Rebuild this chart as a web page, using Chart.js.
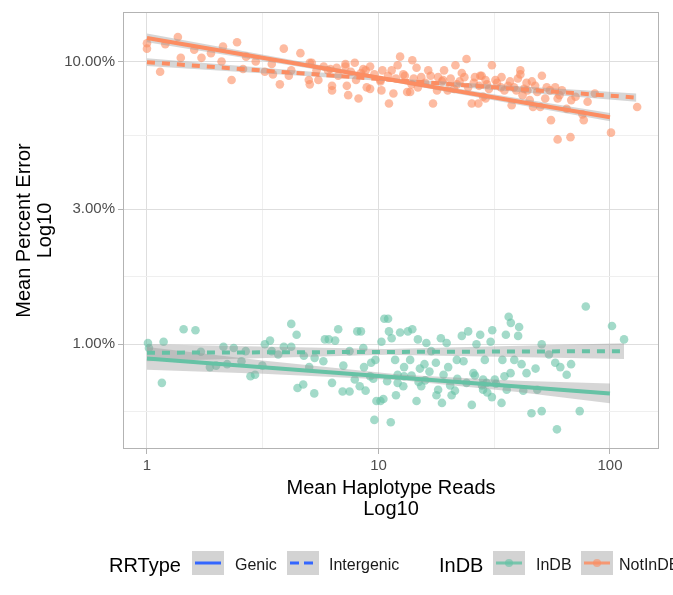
<!DOCTYPE html>
<html>
<head>
<meta charset="utf-8">
<script src="https://cdn.jsdelivr.net/npm/chart.js@4.4.1/dist/chart.umd.min.js"></script>
<style>
  body { margin: 0; background: #fff; overflow: hidden; }
  #wrap { position: relative; width: 673px; height: 595px; overflow: hidden; }
  .lg { position: absolute; top: 553px; height: 24px; line-height: 24px; white-space: nowrap;
        font-family: 'Liberation Sans', Arial, sans-serif; }
  .ttl { font-size: 20px; color: #000; }
  .lbl { font-size: 16px; color: #1a1a1a; }
  .key { position: absolute; top: 551px; width: 32px; height: 24px; background: #d3d3d3; }
</style>
</head>
<body>
<div id="wrap">
  <canvas id="chart" width="673" height="595"></canvas>

  <span class="lg ttl" style="left:109px">RRType</span>
  <svg class="key" style="left:192px" width="32" height="24">
    <line x1="3" y1="12" x2="29" y2="12" stroke="#3366FF" stroke-width="3"/>
  </svg>
  <span class="lg lbl" style="left:235px">Genic</span>
  <svg class="key" style="left:287px" width="32" height="24">
    <line x1="3" y1="12" x2="29" y2="12" stroke="#3366FF" stroke-width="3" stroke-dasharray="9,5"/>
  </svg>
  <span class="lg lbl" style="left:329px">Intergenic</span>

  <span class="lg ttl" style="left:439px">InDB</span>
  <svg class="key" style="left:493px" width="32" height="24">
    <line x1="3" y1="12" x2="29" y2="12" stroke="#66C2A5" stroke-width="3" stroke-opacity="0.85"/>
    <circle cx="16" cy="12" r="4" fill="#66C2A5" fill-opacity="0.6"/>
  </svg>
  <span class="lg lbl" style="left:536px">InDB</span>
  <svg class="key" style="left:581px" width="32" height="24">
    <line x1="3" y1="12" x2="29" y2="12" stroke="#FC8D62" stroke-width="3" stroke-opacity="0.85"/>
    <circle cx="16" cy="12" r="4" fill="#FC8D62" fill-opacity="0.6"/>
  </svg>
  <span class="lg lbl" style="left:619px">NotInDB</span>
</div>

<script>
// axis breaks (major labelled, minor grid only)
const readTicks = [1, 10, 100];
const readMinor = [3.162, 31.62];
const errorTicks = [1, 3, 10];
const errorMinor = [0.577, 1.732, 5.477];

// [mean haplotype reads, mean percent error]
const notInDbPoints = [
  [1, 11.6], [1, 11.1], [1.14, 9.2], [1.2, 11.5], [1.36, 12.2], [1.4, 10.3], [1.6, 11.0],
  [1.72, 10.3], [1.89, 10.7], [2.13, 11.3], [2.1, 10.0], [2.32, 8.6], [2.45, 11.7], [2.6, 9.4],
  [2.68, 10.4], [2.95, 10.0], [3.23, 9.2], [3.46, 9.8], [3.5, 9.0], [3.75, 8.3], [3.9, 11.1],
  [4.1, 8.9], [4.2, 9.3], [4.6, 10.7], [5.0, 8.6], [5.15, 9.9], [5.05, 9.9], [5.5, 8.6],
  [6.05, 9.3], [6.3, 8.2], [6.7, 8.9], [7.2, 9.8], [7.3, 8.2], [7.4, 7.6], [7.9, 9.9],
  [8.0, 8.6], [8.2, 7.4], [8.6, 9.4], [8.9, 8.1], [9.2, 9.6], [10.2, 8.5], [10.3, 7.9],
  [10.4, 9.3], [11.1, 7.1], [11.4, 9.3], [11.6, 7.7], [12.1, 9.7], [12.4, 10.4], [12.8, 9.0],
  [13.3, 7.8], [13.7, 7.8], [14.0, 10.1], [14.6, 9.5], [14.8, 8.1], [15.3, 8.8], [16.4, 9.3],
  [17.2, 7.1], [17.9, 7.9], [18.8, 8.5], [19.2, 9.3], [19.9, 7.9], [21.5, 9.7], [21.8, 8.3],
  [22.9, 9.1], [24.0, 10.2], [24.4, 8.1], [25.3, 7.1], [26.1, 8.8], [27.0, 7.1], [27.9, 8.9],
  [28.3, 7.5], [29.4, 8.3], [30.9, 9.7], [32, 8.6], [34, 8.8], [27.5, 8.9], [29, 7.4],
  [36.3, 8.2], [37.6, 7.0], [39.4, 7.9], [41, 9.3], [41.9, 7.6], [43.6, 8.4], [45, 7.3],
  [46.5, 6.9], [47.5, 8.2], [50, 6.9], [50.8, 8.9], [52.5, 7.4], [53.3, 8.1], [55.6, 6.2],
  [59.4, 7.4], [59.4, 5.3], [65, 6.8], [67.5, 5.4], [71, 7.5], [76, 6.5], [86, 7.7],
  [101, 5.6], [131, 6.9], [41, 9.0], [58, 8.1], [77, 6.2], [8.8, 9.3], [7.2, 9.6], [6.2, 9.4],
  [5.4, 9.3], [5.05, 8.3], [6.3, 7.9], [9.2, 8.0], [10.2, 8.6], [13.9, 8.3], [15.9, 8.4],
  [19.0, 8.6], [21.2, 8.0], [29, 8.6], [33.8, 8.1], [37, 8.5], [44, 7.9], [60.5, 7.6],
  [5.8, 9.6], [6.6, 9.5], [7.6, 9.2], [8.4, 9.1], [9.6, 9.0], [11.0, 8.9], [11.9, 8.7],
  [13.0, 8.9], [14.2, 8.7], [16.8, 8.9], [18.1, 8.8], [20.5, 8.7], [22.4, 8.5], [23.5, 8.8],
  [25.8, 8.4], [27.2, 8.2], [30.0, 8.0], [32.5, 8.4], [35.0, 7.9], [38.5, 8.1], [40.0, 8.7],
  [42.5, 8.0], [46, 8.5], [48.5, 7.8], [55, 7.9], [62, 7.9], [68, 7.3], [80, 7.2]
];

const inDbPoints = [
  [1.01, 1.01], [1.02, 0.97], [1.18, 1.02], [1.16, 0.73], [1.44, 1.13], [1.62, 1.12],
  [1.71, 0.94], [1.87, 0.83], [1.99, 0.84], [2.14, 0.98], [2.22, 0.85], [2.37, 0.97],
  [2.56, 0.87], [2.67, 0.945], [2.80, 0.77], [2.93, 0.78], [3.15, 0.84], [3.23, 1.0],
  [3.4, 1.03], [3.46, 0.945], [3.69, 0.92], [3.9, 0.98], [4.2, 1.18], [4.43, 1.08],
  [4.2, 0.98], [4.47, 0.70], [4.73, 0.72], [4.76, 0.91], [5.02, 0.83], [5.28, 0.67],
  [5.3, 0.895], [5.78, 0.87], [5.87, 1.04], [6.1, 1.04], [6.5, 1.03], [6.3, 0.73],
  [6.7, 1.13], [7.0, 0.68], [7.05, 0.84], [7.5, 0.68], [7.5, 0.945], [7.9, 0.75],
  [8.1, 1.11], [8.4, 1.11], [8.3, 0.71], [8.6, 0.97], [8.66, 0.83], [8.8, 0.685],
  [9.2, 0.77], [9.3, 0.86], [9.6, 0.54], [9.7, 0.88], [9.8, 0.63], [10.2, 0.63],
  [10.3, 1.02], [10.5, 0.64], [10.6, 1.23], [11.0, 1.23], [11.1, 1.11], [11.3, 0.53],
  [11.4, 1.05], [11.8, 0.88], [11.9, 0.66], [12.1, 0.78], [12.4, 1.10], [12.8, 0.71],
  [12.9, 0.83], [13.4, 1.11], [13.7, 0.88], [14.0, 1.13], [14.6, 0.63], [14.8, 1.04],
  [15.1, 0.82], [15.3, 0.71], [15.8, 0.85], [16.1, 1.01], [16.9, 0.945], [17.7, 0.86],
  [17.8, 0.66], [18.6, 1.05], [18.8, 0.62], [19.1, 0.78], [19.7, 1.01], [20.0, 0.83],
  [20.7, 0.66], [21.4, 0.685], [21.8, 0.88], [22.9, 1.07], [23.3, 0.87], [24.0, 0.73],
  [24.4, 1.11], [25.3, 0.61], [25.7, 0.79], [26.5, 1.0], [27.5, 1.08], [28.3, 0.69],
  [28.8, 0.88], [30.5, 1.02], [31, 1.12], [30.9, 0.65], [34, 0.62], [34.3, 0.88],
  [35.5, 1.08], [36.5, 1.25], [37.3, 1.19], [37.2, 0.79], [38.6, 0.88], [40.1, 1.07],
  [40.5, 1.15], [41.5, 0.85], [42.2, 0.685], [43.6, 0.79], [45.8, 0.57], [47.7, 0.82],
  [48.5, 0.69], [50.7, 0.58], [50.7, 1.0], [54.5, 0.92], [58.0, 0.86], [59, 0.50],
  [61, 0.83], [65.0, 0.78], [67.9, 0.85], [74, 0.58], [78.6, 1.36], [102, 1.16],
  [115, 1.04], [28.3, 0.75], [29.3, 0.73], [31.8, 0.75], [35, 0.77], [12.9, 0.77],
  [14.9, 0.735], [15.9, 0.745], [18.1, 0.69], [20.4, 0.715], [21.9, 0.755], [28.0, 0.715],
  [29.5, 0.675], [32.2, 0.725], [35.8, 0.69], [9.5, 0.755], [10.9, 0.74], [12.1, 0.73],
  [13.9, 0.775], [16.6, 0.80], [26.1, 0.775]
];

// linear fits on log-log axes, with their confidence bands
const genicNotInDbFit = [[1, 12.1], [100, 6.35]];
const genicNotInDbUpper = [[1, 12.55], [10, 8.91], [100, 6.57]];
const genicNotInDbLower = [[1, 11.7], [10, 8.63], [100, 6.14]];

const intergenicNotInDbFit = [[1, 9.94], [130, 7.45]];
const intergenicNotInDbUpper = [[1, 10.27], [11.4, 8.73], [130, 7.70]];
const intergenicNotInDbLower = [[1, 9.63], [11.4, 8.49], [130, 7.21]];

const genicInDbFit = [[1, 0.89], [100, 0.67]];
const genicInDbUpper = [[1, 0.977], [3.16, 0.875], [12.6, 0.78], [40, 0.743], [100, 0.726]];
const genicInDbLower = [[1, 0.813], [3.16, 0.787], [12.6, 0.745], [40, 0.678], [100, 0.618]];

const intergenicInDbFit = [[1, 0.933], [115, 0.945]];
const intergenicInDbUpper = [[1, 1.0], [10.7, 0.962], [115, 1.008]];
const intergenicInDbLower = [[1, 0.871], [10.7, 0.918], [115, 0.886]];

const ORANGE = '#FC8D62';
const GREEN = '#66C2A5';
const BAND = 'rgba(153,153,153,0.4)';
const MAJOR_GRID = '#dedede';
const MINOR_GRID = '#efefef';

Chart.defaults.font.family = "'Liberation Sans', Arial, sans-serif";

const toXY = pts => pts.map(([x, y]) => ({ x, y }));

function pointSet(points, color) {
  return {
    data: toXY(points),
    backgroundColor: color,
    borderWidth: 0,
    pointRadius: 4.3,
    pointHoverRadius: 4.3,
    order: 10
  };
}

function bandSets(upper, lower) {
  return [
    { data: toXY(lower), showLine: true, borderWidth: 0, pointRadius: 0, fill: false, order: 5 },
    { data: toXY(upper), showLine: true, borderWidth: 0, pointRadius: 0, fill: '-1',
      backgroundColor: BAND, order: 5 }
  ];
}

function fitLine(fit, color, dashed) {
  return {
    data: toXY(fit),
    showLine: true,
    borderColor: color,
    borderWidth: 4,
    borderDash: dashed ? [8, 7] : [],
    pointRadius: 0,
    fill: false,
    order: 1
  };
}

const datasets = [
  pointSet(notInDbPoints, 'rgba(252,141,98,0.6)'),
  pointSet(inDbPoints, 'rgba(102,194,165,0.6)'),
  ...bandSets(genicNotInDbUpper, genicNotInDbLower),
  ...bandSets(intergenicNotInDbUpper, intergenicNotInDbLower),
  ...bandSets(genicInDbUpper, genicInDbLower),
  ...bandSets(intergenicInDbUpper, intergenicInDbLower),
  fitLine(genicNotInDbFit, ORANGE, false),
  fitLine(intergenicNotInDbFit, ORANGE, true),
  fitLine(genicInDbFit, GREEN, false),
  fitLine(intergenicInDbFit, GREEN, true)
];

// grey frame around the plotting panel
const panelBorder = {
  id: 'panelBorder',
  afterDraw(chart) {
    const { ctx, chartArea: a } = chart;
    ctx.save();
    ctx.strokeStyle = '#b3b3b3';
    ctx.lineWidth = 1;
    ctx.strokeRect(a.left + 0.5, a.top + 0.5, a.right - a.left - 1, a.bottom - a.top - 1);
    ctx.restore();
  }
};

const withMinor = (major, minor) => [...major, ...minor].sort((a, b) => a - b).map(v => ({ value: v }));

new Chart(document.getElementById('chart'), {
  type: 'scatter',
  data: { datasets },
  plugins: [panelBorder],
  options: {
    responsive: false,
    animation: false,
    devicePixelRatio: 1,
    layout: { padding: { left: 0, right: 14, top: 7, bottom: 71 } },
    plugins: { legend: { display: false }, tooltip: { enabled: false } },
    scales: {
      x: {
        type: 'logarithmic',
        min: 0.788,
        max: 162.8,
        afterBuildTicks: s => { s.ticks = withMinor(readTicks, readMinor); },
        afterFit: s => { s.height = 75; },
        border: { display: false },
        grid: {
          color: c => readTicks.includes(c.tick.value) ? MAJOR_GRID : MINOR_GRID,
          tickColor: c => readTicks.includes(c.tick.value) ? '#b3b3b3' : 'rgba(0,0,0,0)',
          tickLength: 5
        },
        ticks: {
          autoSkip: false, maxRotation: 0, padding: 3, color: '#4d4d4d', font: { size: 15 },
          callback: v => readTicks.includes(v) ? String(v) : ''
        },
        title: {
          display: true,
          text: ['Mean Haplotype Reads', 'Log10'],
          color: '#000',
          font: { size: 20, lineHeight: 1.05 },
          padding: { top: 0, bottom: 4.5 }
        }
      },
      y: {
        type: 'logarithmic',
        min: 0.426,
        max: 14.96,
        afterBuildTicks: s => { s.ticks = withMinor(errorTicks, errorMinor); },
        afterFit: s => { s.width = 123; },
        border: { display: false },
        grid: {
          color: c => errorTicks.includes(c.tick.value) ? MAJOR_GRID : MINOR_GRID,
          tickColor: c => errorTicks.includes(c.tick.value) ? '#b3b3b3' : 'rgba(0,0,0,0)',
          tickLength: 5
        },
        ticks: {
          autoSkip: false, padding: 3, color: '#4d4d4d', font: { size: 15 },
          callback: v => errorTicks.includes(v) ? v.toFixed(2) + '%' : ''
        },
        title: {
          display: true,
          text: ['Mean Percent Error', 'Log10'],
          color: '#000',
          font: { size: 20, lineHeight: 1.05 },
          padding: { top: 13.5, bottom: 0 }
        }
      }
    }
  }
});
</script>
</body>
</html>
